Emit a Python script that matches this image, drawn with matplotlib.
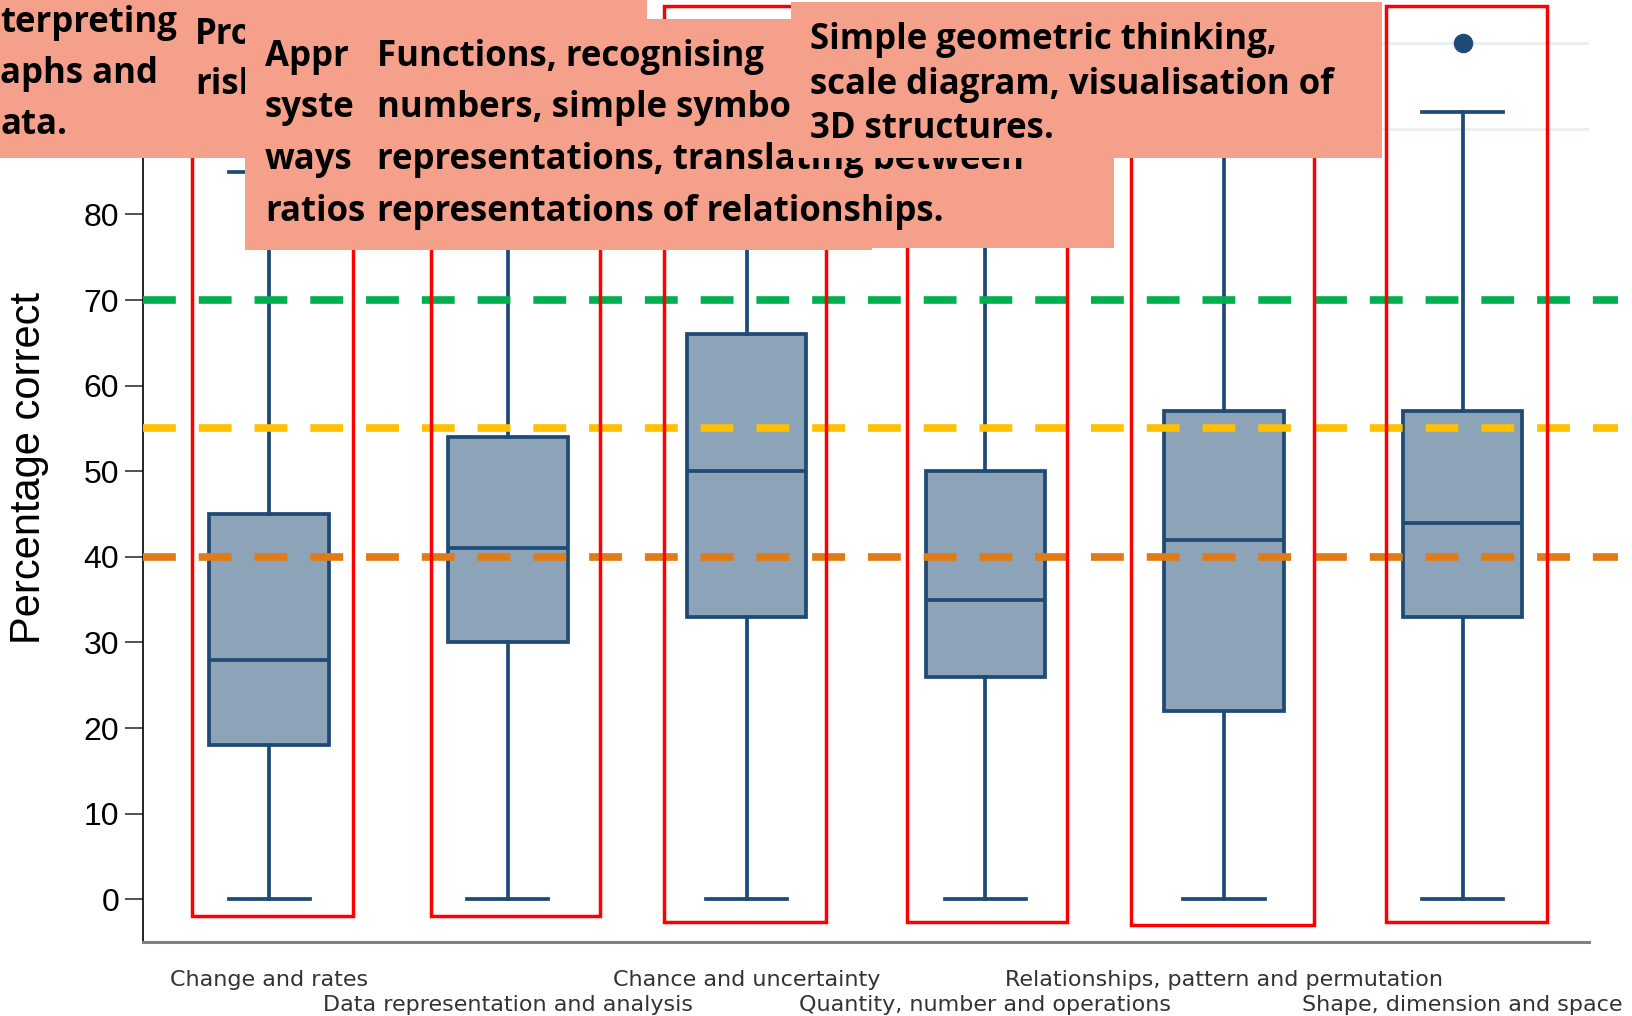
import numpy as np
import matplotlib
matplotlib.use("Agg")
import matplotlib.pyplot as plt
from matplotlib.patches import Rectangle
from matplotlib.transforms import offset_copy

# ----------------------------------------------------------------
# data (percentage correct by content area)

categories = ["Change and rates", "Data representation and analysis",
              "Chance and uncertainty", "Quantity, number and operations",
              "Relationships, pattern and permutation", "Shape, dimension and space"]
q1 = [18, 30, 33, 26, 22, 33]
medians = [28, 41, 50, 35, 42, 44]
q3 = [45, 54, 66, 50, 57, 57]
whis_low = [0, 0, 0, 0, 0, 0]
whis_high = [85, 88, 100, 86, 100, 92]
outliers = [[], [], [], [], [], [100]]

ref_levels = [70, 55, 40]
ref_colors = ["#00B050", "#FFC000", "#E07B16"]

# callout boxes (text lines) -- drawn over the plot like slide shapes
note_a = ["terpreting", "aphs and", "ata."]
note_b = ["Pro", "risk"]
note_c = ["Appr", "syste", "ways", "ratios"]
note_d = ["Functions, recognising", "numbers, simple symbo",
          "representations, translating between", "representations of relationships."]
note_e = ["Simple geometric thinking,", "scale diagram, visualisation of", "3D structures."]

# ----------------------------------------------------------------

W, H = 1632, 1016
box_edge = "#1F4A75"
box_face = "#8CA3B8"
salmon = "#F4A08A"
note_font = dict(fontsize=25, family='Open Sans', weight='bold', color='black')

fig = plt.figure(figsize=(W / 100, H / 100), dpi=100)
ax = fig.add_axes([0.0874, 0.0727, 0.8864, 0.9269])

positions = np.arange(1, len(categories) + 1)
stats = []
for i in range(len(categories)):
        stats.append(dict(label=categories[i], q1=q1[i], med=medians[i], q3=q3[i],
                          whislo=whis_low[i], whishi=whis_high[i], fliers=outliers[i]))

lw_box = 2.7
ax.bxp(stats, positions=positions, widths=0.5, capwidths=0.34, patch_artist=True,
       boxprops=dict(facecolor=box_face, edgecolor=box_edge, linewidth=lw_box),
       medianprops=dict(color=box_edge, linewidth=lw_box),
       whiskerprops=dict(color=box_edge, linewidth=lw_box),
       capprops=dict(color=box_edge, linewidth=lw_box),
       flierprops=dict(marker='o', markerfacecolor=box_edge, markeredgecolor=box_edge, markersize=13),
       zorder=3)

# reference lines
for lvl, col in zip(ref_levels, ref_colors):
        ax.plot([0, 1.02], [lvl, lvl], transform=ax.get_yaxis_transform(), color=col,
                lw=5.5, ls=(0, (4.3, 3.0)), clip_on=False, zorder=4, solid_capstyle='butt')

# red frames round each box
frames = [(0.677, 1.353, -1.95), (1.676, 2.386, -1.95), (2.656, 3.332, -2.7),
          (3.672, 4.343, -2.7), (4.609, 5.376, -3.0), (5.677, 6.353, -2.7)]
for x0, x1, y0 in frames:
        ax.add_patch(Rectangle((x0, y0), x1 - x0, 104.3 - y0, fill=False, edgecolor='#FF0000',
                               lw=2.5, clip_on=False, zorder=5))

ax.set_xlim(0.47, 6.53)
ax.set_ylim(-5, 105)
ax.set_yticks(np.arange(0, 90, 10))
ax.set_yticks(np.arange(0, 110, 10), minor=True)
ax.yaxis.grid(True, which='minor', color='#EAF0F2', lw=2.2, zorder=0)
ax.tick_params(axis='y', which='minor', length=0)
ax.set_axisbelow(True)
ax.tick_params(axis='y', which='major', length=13, width=1.2, color='#333333', pad=4,
               labelsize=23)
for lab in ax.get_yticklabels():
        lab.set_family('Liberation Sans')

# category labels, staggered in two rows under the axis
ax.set_xticks([])
row1 = offset_copy(ax.get_xaxis_transform(), fig=fig, y=-38, units='dots')
row2 = offset_copy(ax.get_xaxis_transform(), fig=fig, y=-63, units='dots')
for i, c in enumerate(categories):
        ax.text(positions[i], 0, c, transform=row1 if i % 2 == 0 else row2,
                ha='center', va='center', fontsize=16, color='#333333', clip_on=False)

ax.set_ylabel("Percentage correct", fontsize=30, family='Liberation Sans', va='center')
ax.yaxis.set_label_coords(-0.0785, 0.503)

for s in ['top', 'right']:
        ax.spines[s].set_visible(False)
ax.spines['left'].set_color('black')
ax.spines['left'].set_linewidth(1.2)
ax.spines['bottom'].set_color('#808080')
ax.spines['bottom'].set_linewidth(2.2)


def px_box(x0, y0, x1, y1, z):
        fig.patches.append(Rectangle((x0 / W, 1 - y1 / H), (x1 - x0) / W, (y1 - y0) / H,
                                     transform=fig.transFigure, facecolor=salmon,
                                     edgecolor='none', zorder=z))


def px_text(x, baselines, lines, z):
        for b, t in zip(baselines, lines):
                fig.text(x / W, 1 - b / H, t, ha='left', va='baseline', zorder=z, **note_font)


px_box(0, 0, 190, 158, 10)
px_text(0, [32, 83, 134], note_a, 10.5)
px_box(182, 0, 647, 158, 11)
px_text(195, [44, 94], note_b, 11.5)
px_box(245, 25, 872, 250, 12)
px_text(265, [66, 117, 169, 221], note_c, 12.5)
px_box(366, 19, 1114, 248, 13)
px_text(377, [66, 117, 169, 221], note_d, 13.5)
px_box(791, 2, 1382, 158, 14)
px_text(810, [49, 94, 138], note_e, 14.5)

fig.savefig("out.png", dpi=100)
